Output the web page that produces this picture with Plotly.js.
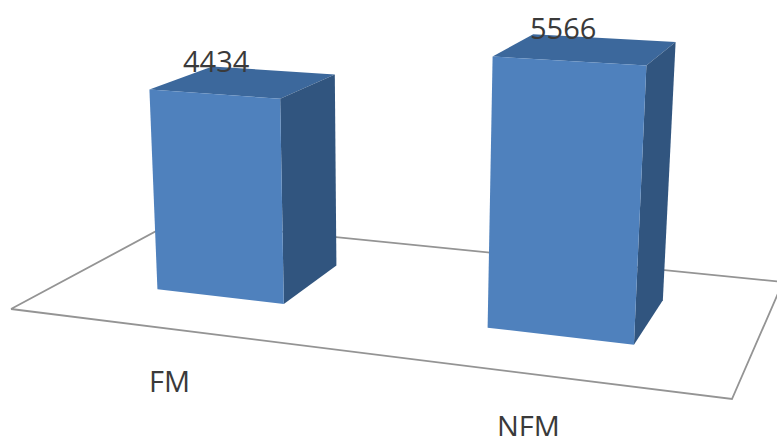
<!DOCTYPE html>
<html>
<head>
<meta charset="utf-8">
<script src="https://cdn.plot.ly/plotly-3.0.1.min.js"></script>
<style>html,body{margin:0;padding:0;background:#fff;overflow:hidden}#chart{width:777px;height:436px}</style>
</head>
<body>
<div id="chart"></div>
<script>
// Counts per category
const categories = ['FM', 'NFM'];
const counts = [4434, 5566];

// Colours of the box faces and the floor outline
const frontColor = '#4F81BD';
const sideColor = '#31557F';
const topColor = '#3C689C';
const floorColor = '#949494';
const textColor = '#3A3A3A';

// Perspective camera: floor coordinates (u across, v into the page, both 0..1)
// and the count z map to screen pixels through one projective matrix.
const cam = {
  a: 615.1, b: 198.65, c: 11,
  d: 32.3, e: -44.24, f: 309,
  g: -0.14464, h: 0.19799,
  i: -7.99e-6, vanishX: 384, vanishY: 5947
};
function project(u, v, z) {
  const w = cam.g * u + cam.h * v + 1 + cam.i * z;
  return [
    (cam.a * u + cam.b * v + cam.c + cam.i * cam.vanishX * z) / w,
    (cam.d * u + cam.e * v + cam.f + cam.i * cam.vanishY * z) / w
  ];
}

// Box footprint on the floor
const barWidth = 0.2, depthFront = 0.303, depthBack = 0.705;

function face(points, color, name) {
  const xy = points.map(p => project(p[0], p[1], p[2]));
  return {
    type: 'scatter', mode: 'lines', fill: 'toself', fillcolor: color,
    x: xy.map(p => p[0]).concat(xy[0][0]),
    y: xy.map(p => p[1]).concat(xy[0][1]),
    line: {width: 0, color: color}, hoverinfo: 'skip', name: name, showlegend: false
  };
}

const traces = [];

// Floor outline
const floorCorners = [[0, 0], [1, 0], [1, 1], [0, 1], [0, 0]].map(c => project(c[0], c[1], 0));
traces.push({
  type: 'scatter', mode: 'lines',
  x: floorCorners.map(p => p[0]), y: floorCorners.map(p => p[1]),
  line: {color: floorColor, width: 1.8}, hoverinfo: 'skip', showlegend: false
});

const annotations = [];
categories.forEach((cat, k) => {
  const mid = (k + 0.5) / categories.length;
  const u0 = mid - barWidth / 2, u1 = mid + barWidth / 2;
  const z = counts[k];
  traces.push(face([[u0, depthBack, z], [u1, depthBack, z], [u1, depthFront, z], [u0, depthFront, z]], topColor, cat + ' top'));
  traces.push(face([[u1, depthFront, 0], [u1, depthBack, 0], [u1, depthBack, z], [u1, depthFront, z]], sideColor, cat + ' side'));
  traces.push(face([[u0, depthFront, 0], [u1, depthFront, 0], [u1, depthFront, z], [u0, depthFront, z]], frontColor, cat));

  // Value label above the front top edge
  const top = project(mid, depthFront, z);
  annotations.push({
    x: top[0], y: top[1], xref: 'x', yref: 'y', yshift: 34, xshift: k === 0 ? 3 : -5,
    text: String(z), showarrow: false, xanchor: 'center', yanchor: 'middle',
    font: {family: 'Open Sans', size: 29, color: textColor}
  });
  // Category label below the front floor edge
  const base = project(mid, 0, 0);
  annotations.push({
    x: base[0], y: base[1], xref: 'x', yref: 'y', yshift: -52, xshift: -1,
    text: cat, showarrow: false, xanchor: 'center', yanchor: 'middle',
    font: {family: 'Open Sans', size: 29, color: textColor}
  });
});

Plotly.newPlot('chart', traces, {
  width: 777, height: 436,
  margin: {l: 0, r: 0, t: 0, b: 0},
  paper_bgcolor: '#fff', plot_bgcolor: '#fff',
  showlegend: false,
  xaxis: {range: [0, 777], visible: false, fixedrange: true},
  yaxis: {range: [436, 0], visible: false, fixedrange: true},
  annotations: annotations
}, {displayModeBar: false, staticPlot: true});
</script>
</body>
</html>
